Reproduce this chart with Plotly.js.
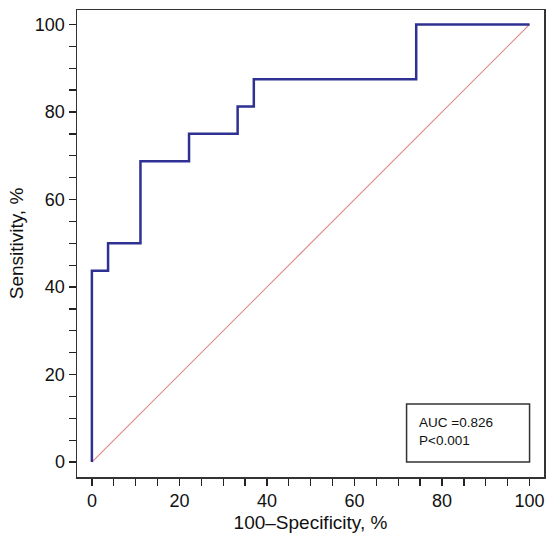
<!DOCTYPE html>
<html>
<head>
<meta charset="utf-8">
<script src="https://cdn.plot.ly/plotly-3.0.1.min.js"></script>
<style>html,body{margin:0;padding:0;background:#fff;}#chart{width:554px;height:539px;}</style>
</head>
<body>
<div id="chart"></div>
<script>
// ROC step points (100-Specificity %, Sensitivity %)
const fpr = [0, 0, 3.7, 3.7, 11.1, 11.1, 22.2, 22.2, 33.3, 33.3, 37.0, 37.0, 74.1, 74.1, 100];
const tpr = [0, 43.75, 43.75, 50, 50, 68.75, 68.75, 75, 75, 81.25, 81.25, 87.5, 87.5, 100, 100];
const refX = [0, 100];
const refY = [0, 100];
const statLines = ["AUC =0.826", "P<0.001"];

const font = "Liberation Sans, Arial, Helvetica, sans-serif";

const traces = [
  {x: refX, y: refY, type: "scatter", mode: "lines", line: {color: "rgb(222,140,140)", width: 1.2}, hoverinfo: "skip"},
  {x: fpr, y: tpr, type: "scatter", mode: "lines", line: {color: "#2e3192", width: 2.5}, hoverinfo: "skip"}
];

const axisCommon = {
  range: [-3.4, 103.3],
  tickvals: [0, 20, 40, 60, 80, 100],
  ticks: "outside", ticklen: 7, tickwidth: 1.3, tickcolor: "#222",
  minor: {dtick: 5, ticks: "outside", ticklen: 7, tickwidth: 1.3, tickcolor: "#222"},
  showline: true, linecolor: "#333", linewidth: 1.5, mirror: true,
  showgrid: false, zeroline: false,
  tickfont: {family: font, size: 18, color: "#111"},
  fixedrange: true
};

const layout = {
  width: 554, height: 539,
  margin: {l: 77, r: 10, t: 10, b: 62},
  paper_bgcolor: "#fff", plot_bgcolor: "#fff",
  showlegend: false,
  xaxis: Object.assign({}, axisCommon, {
    title: {text: "100\u2013Specificity, %", font: {family: font, size: 19, color: "#111"}, standoff: 5}
  }),
  yaxis: Object.assign({}, axisCommon, {
    title: {text: "Sensitivity, %", font: {family: font, size: 19, color: "#111"}, standoff: 6}
  }),
  shapes: [
    {type: "rect", xref: "x", yref: "y", x0: 71.9, x1: 100, y0: 0, y1: 13.3,
     line: {color: "#333", width: 1.5}, fillcolor: "rgba(0,0,0,0)"}
  ],
  annotations: statLines.map((t, i) => ({
    xref: "x", yref: "y", x: 74.2, y: 9.0 - i * 4.0, text: t, showarrow: false,
    xanchor: "left", yanchor: "middle",
    font: {family: font, size: 13.5, color: "#111"}
  }))
};

Plotly.newPlot("chart", traces, layout, {displayModeBar: false, staticPlot: true});
</script>
</body>
</html>
